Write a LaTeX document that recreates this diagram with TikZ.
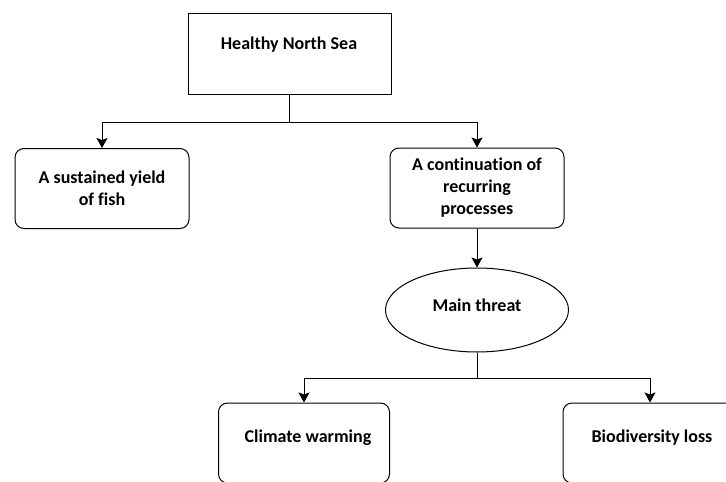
\documentclass[tikz,border=0pt]{standalone}
\usepackage{fontspec}
\setmainfont{Carlito}[Ligatures=NoCommon]
\usetikzlibrary{arrows.meta}
\usetikzlibrary{shapes.geometric}

\tikzset{
  rbox/.style={draw, rounded corners=9pt, minimum width=174pt, minimum height=80pt, align=center, inner sep=0pt},
  sbox/.style={draw, rectangle, minimum width=203pt, minimum height=81pt},
  oval/.style={draw, ellipse, minimum width=183pt, minimum height=84pt},
  lbl/.style={inner sep=0pt, align=center}
}

\begin{document}
\begin{tikzpicture}[x=1pt,y=-1pt, line width=1pt,
  font=\fontsize{18}{22}\selectfont\bfseries,
  >={Stealth[length=10pt,width=11pt,inset=2pt]}]
  \clip (0,0) rectangle (726,482);

  \node[sbox] (hns) at (289.5,53.5) {};
  \node[lbl] (hnstxt) at (289,45) {Healthy North Sea};

  \node[rbox] (yield) at (102,188.5) {A sustained yield\\of fish};
  \node[rbox] (cont) at (477,188) {A continuation of\\recurring\\processes};

  \node[oval] (threat) at (477,310) {};
  \node[lbl] (threattxt) at (477,305) {Main threat};

  \node[rbox, minimum width=171pt] (climate) at (304,443) {};
  \node[lbl] (climatetxt) at (308,438) {Climate warming};
  \node[rbox] (bio) at (650,443) {};
  \node[lbl] (biotxt) at (652,438) {Biodiversity loss};

  \draw (hns.south) -- ++(0,28) coordinate (split1);
  \draw[->] (split1) -| (yield.north);
  \draw[->] (split1) -| (cont.north);
  \draw[->] (cont.south) -- (threat.north);
  \draw (threat.south) -- ++(0,26) coordinate (split2);
  \draw[->] (split2) -| (climate.north);
  \draw[->] (split2) -| (bio.north);
\end{tikzpicture}
\end{document}
